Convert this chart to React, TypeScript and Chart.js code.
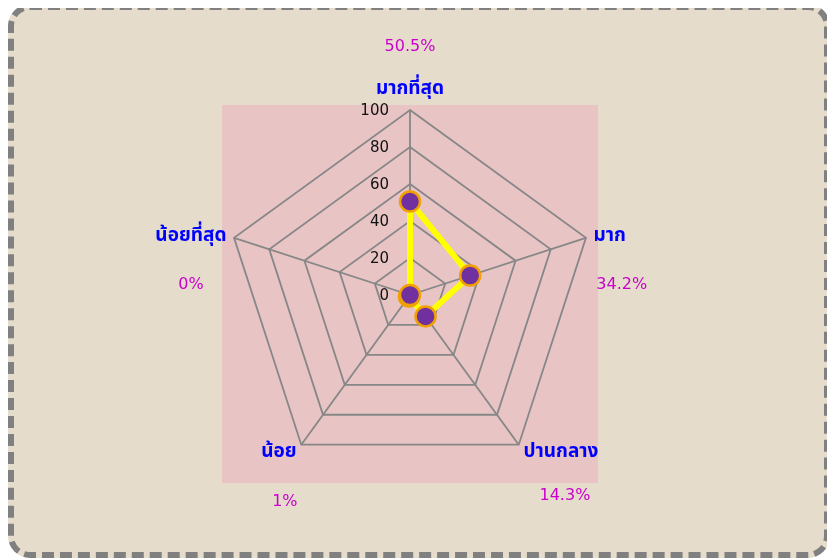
import React, { useEffect, useRef } from "react";
import { Chart, registerables } from "chart.js";

Chart.register(...registerables);

const categories = ["มากที่สุด", "มาก", "ปานกลาง", "น้อย", "น้อยที่สุด"];
const values = [50.5, 34.2, 14.3, 1, 0];
const percentLabels = ["50.5%", "34.2%", "14.3%", "1%", "0%"];
const tickValues = [0, 20, 40, 60, 80, 100];

const THAI_FONT = "Tahoma, 'Noto Sans Thai', 'Noto Sans', 'DejaVu Sans', sans-serif";

const decorPlugin = {
  id: "decor",
  beforeDraw(chart: any) {
    const r = chart.scales.r;
    const ctx = chart.ctx;
    ctx.save();
    ctx.fillStyle = "#e8c4c5";
    const R = r.drawingArea;
    ctx.fillRect(r.xCenter - R - 3, r.yCenter - R - 5, 2 * R + 6, 2 * R + 8);
    ctx.restore();
  },
  beforeDatasetsDraw(chart: any) {
    const r = chart.scales.r;
    const ctx = chart.ctx;
    ctx.save();
    ctx.font = "15px 'DejaVu Sans', sans-serif";
    ctx.fillStyle = "#111";
    ctx.textAlign = "right";
    ctx.textBaseline = "middle";
    tickValues.forEach((v) => {
      const d = r.getDistanceFromCenterForValue(v);
      ctx.fillText(String(v), r.xCenter - 21, r.yCenter - d + 1);
    });
    ctx.restore();
  },
  afterDraw(chart: any) {
    const r = chart.scales.r;
    const ctx = chart.ctx;
    ctx.save();
    const R = r.drawingArea;
    const pctDx = [0, 12, 4, 6, 0];
    const pctDy = [-43, 47, 43, 49, 47];
    categories.forEach((label, i) => {
      const pos = r.getPointPosition(i, R + 8);
      ctx.font = `bold 19px ${THAI_FONT}`;
      const w = ctx.measureText(label).width;
      let cx: number;
      let cy: number;
      if (Math.abs(pos.x - r.xCenter) < 2) {
        cx = pos.x;
        cy = pos.y - 12;
      } else if (pos.x > r.xCenter) {
        cx = pos.x + w / 2;
        cy = pos.y + 2;
      } else {
        cx = pos.x - w / 2;
        cy = pos.y + 2;
      }
      ctx.fillStyle = "#0000ff";
      ctx.textAlign = "center";
      ctx.textBaseline = "middle";
      ctx.fillText(label, cx, cy);

      ctx.font = "16px 'DejaVu Sans', sans-serif";
      ctx.fillStyle = "#cc00cc";
      ctx.fillText(percentLabels[i], cx + pctDx[i], cy + pctDy[i]);
    });
    ctx.restore();
  },
};

export default function App() {
  const ref = useRef<HTMLCanvasElement | null>(null);
  useEffect(() => {
    if (!ref.current) return;
    const chart = new Chart(ref.current, {
      type: "radar",
      data: {
        labels: categories,
        datasets: [
          {
            data: values,
            borderColor: "#ffff00",
            borderWidth: 6,
            fill: false,
            pointRadius: 10,
            pointHoverRadius: 10,
            pointBackgroundColor: "#7030a0",
            pointBorderColor: "#f0a000",
            pointBorderWidth: 2.5,
          },
        ],
      },
      options: {
        responsive: false,
        animation: false,
        layout: { padding: { left: 0, right: 18, top: 100, bottom: 72 } },
        plugins: { legend: { display: false }, tooltip: { enabled: false } },
        scales: {
          r: {
            min: 0,
            max: 100,
            ticks: { stepSize: 20, display: false },
            grid: { color: "#878787", lineWidth: 1.8 },
            angleLines: { color: "#878787", lineWidth: 1.8 },
            pointLabels: { display: false },
          },
        },
      },
      plugins: [decorPlugin],
    } as any);
    return () => chart.destroy();
  }, []);
  return (
    <div
      style={{
        position: "relative",
        marginTop: -4,
        width: 810,
        height: 542,
        border: "6px dashed #808080",
        borderRadius: 22,
        background: "#e5dccb",
      }}
    >
      <canvas
        ref={ref}
        width={810}
        height={542}
        style={{ position: "absolute", left: 0, top: 0, width: 810, height: 542 }}
      />
    </div>
  );
}
